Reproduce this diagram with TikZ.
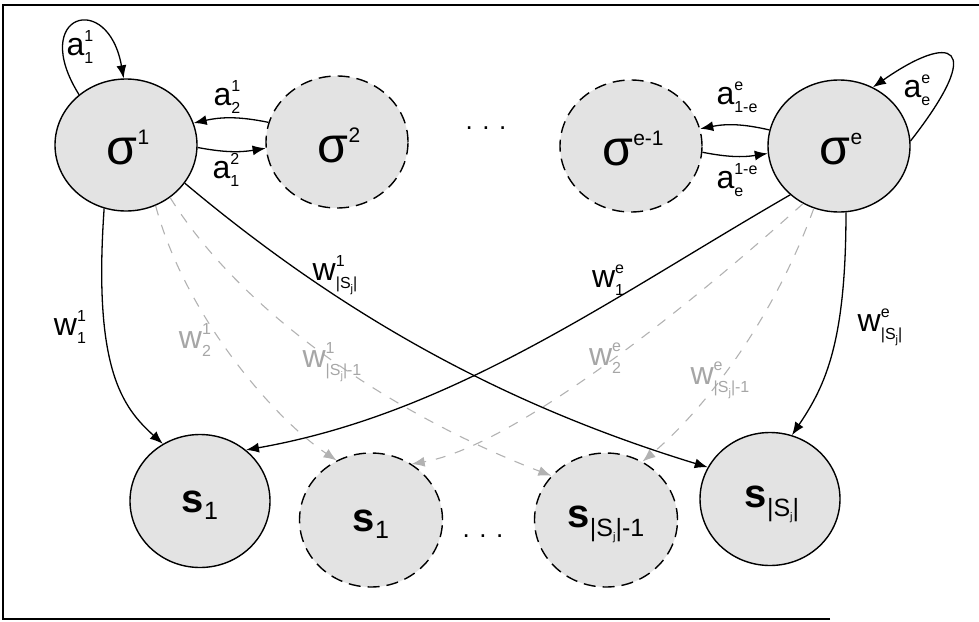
\documentclass[tikz,border=0pt]{standalone}
\usepackage{fontspec}
\setmainfont{Liberation Sans}
\usetikzlibrary{shapes.geometric,arrows.meta}
\newsavebox{\supbox}
\newsavebox{\subbox}
\newlength{\ssw}
% #1 script size, #2 raise of sup, #3 lower of sub, #4 sup, #5 sub
\newcommand{\scripts}[5]{%
  \sbox{\supbox}{\fontsize{#1}{#1}\selectfont #4}%
  \sbox{\subbox}{\fontsize{#1}{#1}\selectfont #5}%
  \setlength{\ssw}{\wd\supbox}%
  \ifdim\wd\subbox>\ssw\setlength{\ssw}{\wd\subbox}\fi
  \makebox[\ssw][l]{\rlap{\raisebox{#2}{\usebox{\supbox}}}\raisebox{-#3}{\usebox{\subbox}}}}
\newcommand{\lab}[2]{\scripts{16}{14pt}{8pt}{#1}{#2}}
\newcommand{\Sj}{|S\raisebox{-4pt}{\fontsize{11}{11}\selectfont j}|}
\tikzset{
  solidnode/.style={ellipse, draw, line width=1.4pt, fill=gray!22, minimum width=142pt, minimum height=132pt, inner sep=0pt},
  dashnode/.style={solidnode, dash pattern=on 12pt off 7pt},
  sigtext/.style={font=\fontsize{50}{54}\selectfont, inner sep=0pt},
  stext/.style={font=\fontsize{40}{44}\selectfont, inner sep=0pt},
  edge/.style={line width=1.3pt, -{Latex[length=13pt,width=10pt]}},
  gedge/.style={line width=1.1pt, draw=gray!60, dash pattern=on 10pt off 10pt, -{Latex[length=13pt,width=10pt]}},
  lab/.style={font=\fontsize{32}{36}\selectfont, inner sep=0pt},
  glab/.style={lab, text=gray!70},
  dots/.style={font=\fontsize{26}{30}\selectfont, inner sep=0pt},
}
\begin{document}
\begin{tikzpicture}[x=1pt,y=1pt]
\useasboundingbox (0,0) rectangle (979,-621);
\draw[line width=1.5pt] (830,-619) -- (3,-619) -- (3,-5) -- (979,-5);

% top nodes
\node[solidnode] (g1) at (126,-145) {};
\node[sigtext] at (128,-148) {σ\raisebox{20pt}{\fontsize{21}{21}\selectfont 1}};
\node[dashnode] (g2) at (337,-142) {};
\node[sigtext] at (339,-145) {σ\raisebox{20pt}{\fontsize{21}{21}\selectfont 2}};
\node[dashnode] (ge1) at (631,-146) {};
\node[sigtext] at (633,-149) {σ\raisebox{20pt}{\fontsize{21}{21}\selectfont e-1}};
\node[solidnode] (ge) at (839,-146) {};
\node[sigtext] at (841,-149) {σ\raisebox{20pt}{\fontsize{21}{21}\selectfont e}};
\node[dots] (dt) at (486,-128) {. . .};

% bottom nodes
\node[solidnode, minimum width=140pt, minimum height=133pt] (s1) at (200,-501) {};
\node[stext] at (200,-505) {\textbf{s}\raisebox{-7pt}{\fontsize{25}{25}\selectfont 1}};
\node[dashnode, minimum width=143pt, minimum height=134pt] (s1d) at (371,-520) {};
\node[stext] at (371,-524) {\textbf{s}\raisebox{-7pt}{\fontsize{25}{25}\selectfont 1}};
\node[dashnode, minimum width=143pt, minimum height=134pt] (sm) at (606,-520) {};
\node[stext] at (606,-524) {\textbf{s}\raisebox{-9pt}{\fontsize{25}{25}\selectfont \Sj-1}};
\node[solidnode, minimum width=140pt, minimum height=133pt] (sS) at (770,-499) {};
\node[stext] at (772,-504) {\textbf{s}\raisebox{-9pt}{\fontsize{25}{25}\selectfont \Sj}};
\node[dots] (db) at (483,-536) {. . .};

% top connectors
\draw[edge] (g1.133) .. controls +(122:95) and +(100:90) .. (g1.92);
\node[lab] (la11) at (80,-47) {a\lab{1}{1}};
\draw[edge] (g2.164) to[bend right=12] (g1.18);
\node[lab] (la21) at (227,-97) {a\lab{1}{2}};
\draw[edge] (g1.-2) to[bend right=10] (g2.185);
\node[lab] (la12) at (226,-170) {a\lab{2}{1}};
\draw[edge] (ge.167) to[bend right=12] (ge1.14);
\node[lab] (la1e) at (737,-97) {a\lab{e}{1-e}};
\draw[edge] (ge1.-5) to[bend right=10] (ge.186);
\node[lab] (lae1) at (737,-180) {a\lab{1-e}{e}};
\draw[edge] (ge.4) .. controls +(52:125) and +(35:95) .. (ge.60);
\node[lab] (laee) at (917,-90) {a\lab{e}{e}};

% gray dashed connectors
\draw[gedge] (g1.-64) .. controls +(-75:110) and +(146:80) .. (s1d.120);
\node[glab] (lw21) at (195,-340) {w\lab{1}{2}};
\draw[gedge] (g1.-50) .. controls +(-58:150) and +(159:150) .. (sm.141);
\node[glab] (lwm1) at (332,-362) {w\lab{1}{\Sj-1}};
\draw[gedge] (ge.238) .. controls +(222:170) and +(10:100) .. (s1d.54);
\node[glab] (lw2e) at (605,-358) {w\lab{e}{2}};
\draw[gedge] (ge.248) .. controls +(250:120) and +(40:80) .. (sm.58);
\node[glab] (lwme) at (720,-380) {w\lab{e}{\Sj-1}};

% solid connectors
\draw[edge] (g1.251) .. controls +(-94:160) and +(138:55) .. (s1.123);
\node[lab] (lw11) at (70,-327) {w\lab{1}{1}};
\draw[edge] (g1.-33) .. controls +(-40:210) and +(163:210) .. (sS.153);
\node[lab] (lwS1) at (335,-275) {w\lab{1}{\Sj}};
\draw[edge] (ge.225) .. controls +(210:210) and +(10:210) .. (s1.48);
\node[lab] (lw1e) at (608,-280) {w\lab{e}{1}};
\draw[edge] (ge.-84) .. controls +(-90:130) and +(56:60) .. (sS.71);
\node[lab] (lwSe) at (880,-327) {w\lab{e}{\Sj}};
\end{tikzpicture}
\end{document}
